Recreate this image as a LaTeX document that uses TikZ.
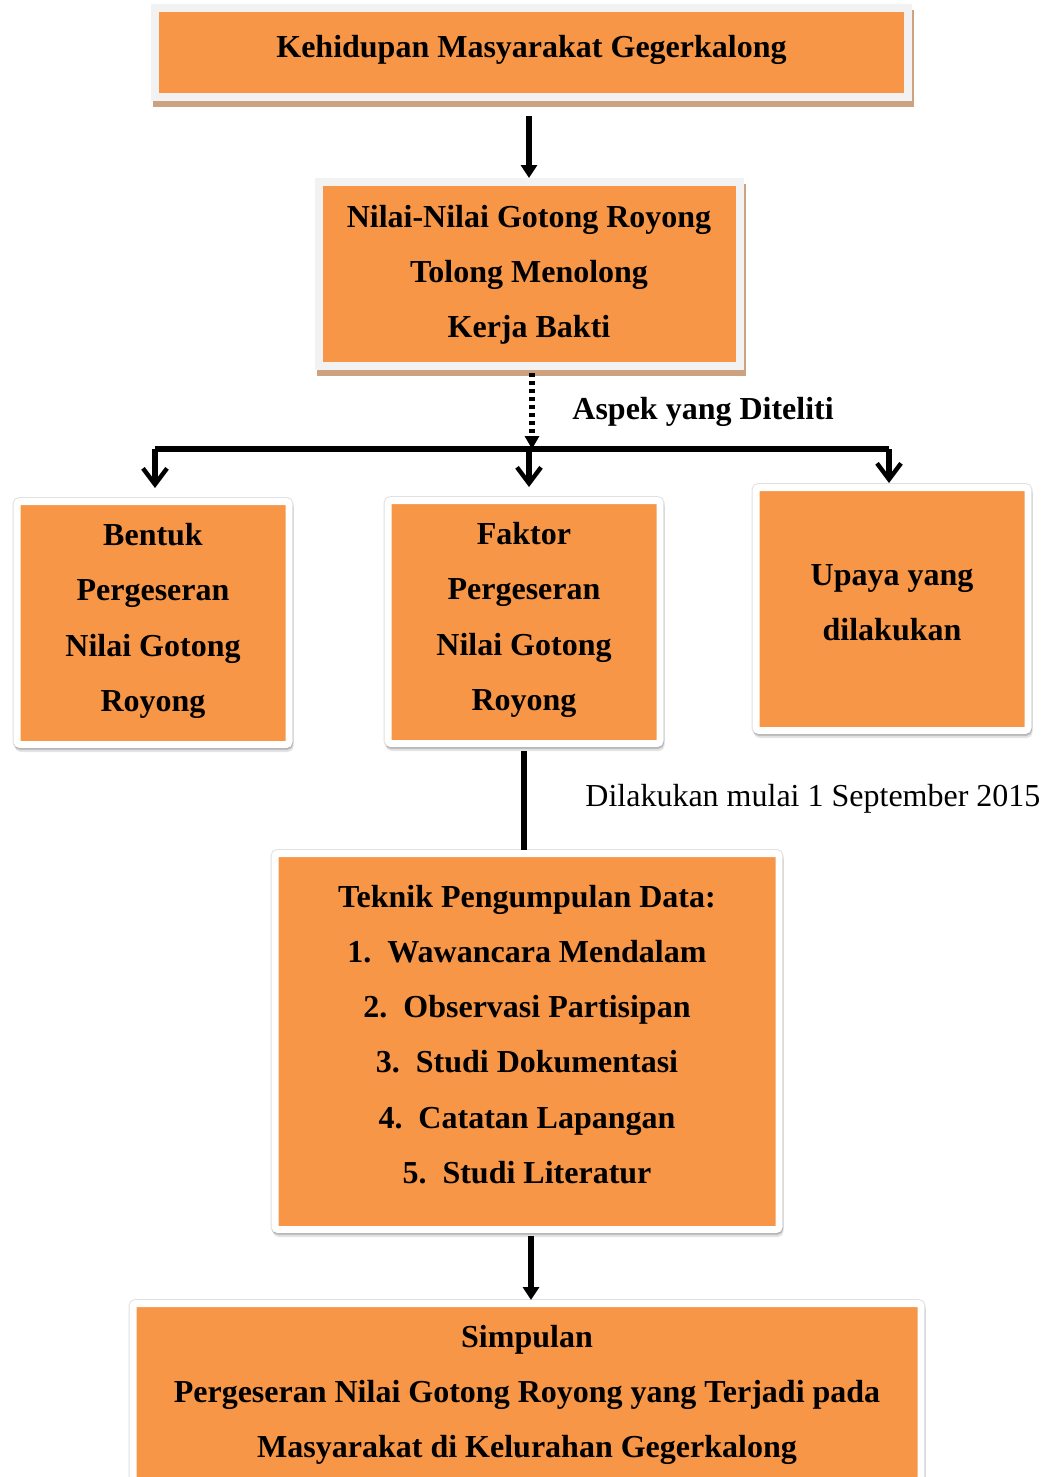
\documentclass[tikz,border=0pt]{standalone}
\usepackage{fontspec}
\setmainfont{Liberation Serif}
\usetikzlibrary{arrows.meta,calc}
\definecolor{oranye}{HTML}{F79646}
\definecolor{bingkai}{HTML}{F2F2F2}
\definecolor{bayang}{HTML}{CDA281}

\begin{document}
\begin{tikzpicture}[x=0.5pt,y=-0.5pt,
	kotak/.style={fill=oranye, inner sep=0pt},
	teks/.style={align=center, inner sep=0pt, font=\bfseries\fontsize{16}{27.6}\selectfont},
	kotakatas/.style={kotak, draw=bingkai, line width=4pt, preaction={fill=bayang, draw=bayang, transform canvas={xshift=1pt,yshift=-3pt}}},
	kotakbawah/.style={kotak, draw=white, line width=3.5pt, rounded corners=1.5pt,
		preaction={draw=black!12, line width=4.5pt},
		preaction={fill=black!30, draw=black!30, opacity=0.35, transform canvas={xshift=0.6pt,yshift=-2pt}},
		preaction={fill=black!50, draw=black!50, opacity=0.35, transform canvas={xshift=0.3pt,yshift=-1pt}}},
	garis/.style={line width=2.6pt},
	panah/.style={garis, -{Triangle[length=6.5pt,width=8pt]}},
	panahbuka/.style={garis, -{Straight Barb[length=8pt,width=12pt,line width=2.2pt]}},
	titik/.style={garis, dash pattern=on 2pt off 2pt, -{Triangle[length=6.5pt,width=7pt]}}
	]
					\useasboundingbox (0,0) rectangle (1048,1477);
					%KOTAK ATAS
					\node[kotakatas, minimum width=376.5pt, minimum height=44.5pt] (hidup) at (531.5,52.5) {};
					\node[teks] (hidupteks) at ([yshift=1.5pt]hidup.center) {Kehidupan Masyarakat Gegerkalong};
					\node[kotakatas, minimum width=210.5pt, minimum height=91.75pt] (nilai) at (529,273.75) {};
					\node[teks] (nilaiteks) at ([yshift=-0.5pt]nilai.center) {Nilai-Nilai Gotong Royong\\Tolong Menolong\\Kerja Bakti};
					%ASPEK
					\node[kotakbawah, minimum width=136pt, minimum height=121.5pt] (bentuk) at (153,623) {};
					\node[teks] (bentukteks) at ([yshift=1pt]bentuk.center) {Bentuk\\Pergeseran\\Nilai Gotong\\Royong};
					\node[kotakbawah, minimum width=136pt, minimum height=121.5pt] (faktor) at (524,622) {};
					\node[teks] (faktorteks) at ([yshift=1pt]faktor.center) {Faktor\\Pergeseran\\Nilai Gotong\\Royong};
					\node[kotakbawah, minimum width=136pt, minimum height=121.5pt] (upaya) at (892,609) {};
					\node[teks] (upayateks) at ([yshift=3pt]upaya.center) {Upaya yang\\dilakukan};
					%TEKNIK DAN SIMPULAN
					\node[kotakbawah, minimum width=252pt, minimum height=188pt] (teknik) at (527,1041.5) {};
					\node[teks] (teknikteks) at ([yshift=3.5pt]teknik.center) {Teknik Pengumpulan Data:\\1.\ \ Wawancara Mendalam\\2.\ \ Observasi Partisipan\\3.\ \ Studi Dokumentasi\\4.\ \ Catatan Lapangan\\5.\ \ Studi Literatur};
					\node[kotakbawah, minimum width=394pt, minimum height=88.5pt] (simpulan) at (527,1392) {};
					\node[teks] (simpulanteks) at ([yshift=-1.5pt]simpulan.center) {Simpulan\\Pergeseran Nilai Gotong Royong yang Terjadi pada\\Masyarakat di Kelurahan Gegerkalong};
					%LABEL
					\node[anchor=west, inner sep=0pt, font=\bfseries\fontsize{16}{18}\selectfont] (aspek) at (572,412) {Aspek yang Diteliti};
					\node[anchor=west, inner sep=0pt, font=\fontsize{16}{18}\selectfont] (mulai) at (585,799) {Dilakukan mulai 1 September 2015};
					%GARIS
					\coordinate (kiri) at (155,449);
					\coordinate (tengah) at (529,449);
					\coordinate (kanan) at (889,449);
					\coordinate (cabang) at (532,449);
					\draw[panah] ($(nilai.north |- hidup.south)+(0,15)$) -- (nilai.north);
					\draw[titik] ($(cabang |- nilai.south)+(0,3)$) -- (cabang);
					\draw[garis] (kiri) -- (kanan);
					\draw[panahbuka] (kiri) -- ([yshift=5pt]kiri |- bentuk.north);
					\draw[panahbuka] (tengah) -- ([yshift=5pt]tengah |- faktor.north);
					\draw[panahbuka] (kanan) -- ([yshift=0.5pt]kanan |- upaya.north);
					\draw[garis] ([yshift=-2pt]faktor.south) -- (faktor.south |- teknik.north);
					\draw[panah] ([xshift=2pt,yshift=-1.5pt]teknik.south) -- ([xshift=2pt]simpulan.north);
	  \end{tikzpicture}
\end{document}
